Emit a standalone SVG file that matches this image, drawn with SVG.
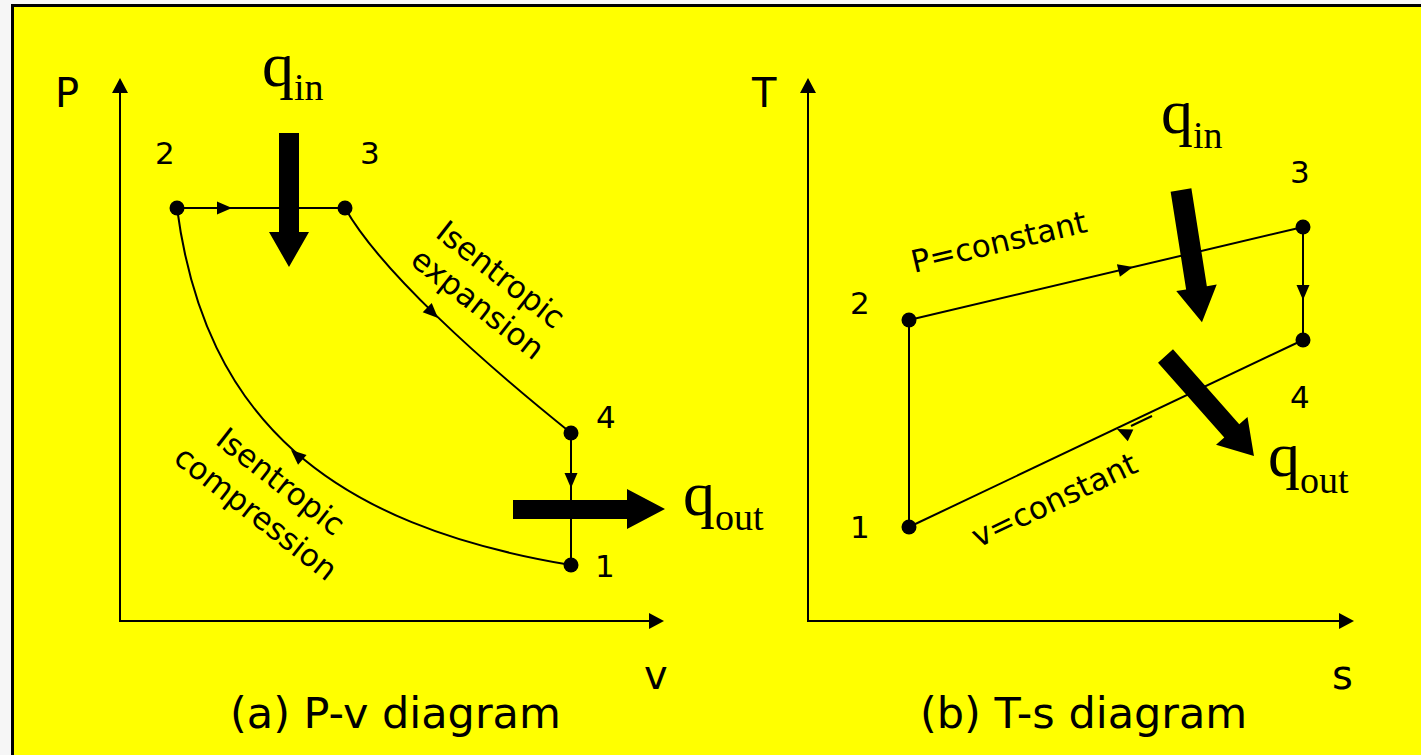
<svg xmlns="http://www.w3.org/2000/svg" width="1421" height="755" viewBox="0 0 1421 755">
<style>
.ln{fill:none;stroke:#000;stroke-width:2}
.ax{fill:none;stroke:#000;stroke-width:2}
.dot{fill:#000}
.t{font-family:"DejaVu Sans",Verdana,sans-serif;fill:#000}
.num{font-size:31px}
.axl{font-size:40px}
.cap{font-size:43px}
.rot{font-size:31px}
.q{font-family:"Liberation Serif","Times New Roman",serif;fill:#000;font-size:64px}
.qs{font-size:38px}
.big{fill:#000}
</style>
<defs>
<path id="ah" d="M0,0 L-15,-6.5 L-15,6.5 Z" fill="#000"/>
<path id="axh" d="M0,0 L-15,-8 L-15,8 Z" fill="#000"/>
</defs>
<rect x="0" y="0" width="1421" height="755" fill="#f6f6f6"/>
<rect x="12.5" y="5.5" width="1420" height="760" fill="#ffff00" stroke="#000" stroke-width="3"/>

<g id="pv-axes">
<line class="ax" x1="120" y1="622" x2="120" y2="90"/>
<use href="#axh" transform="translate(120,78) rotate(-90)"/>
<line class="ax" x1="119" y1="621" x2="652" y2="621"/>
<use href="#axh" transform="translate(664,621)"/>
<text class="t axl" x="55" y="107">P</text>
<text class="t axl" x="644" y="689">v</text>
</g>

<g id="pv-connectors">
<line class="ln" x1="177" y1="208" x2="345" y2="208"/>
<use href="#ah" transform="translate(232,208)"/>
<path class="ln" d="M345,208 C380,270 480,360 571,433"/>
<use href="#ah" transform="translate(438,318) rotate(44)"/>
<line class="ln" x1="571" y1="433" x2="571" y2="565"/>
<use href="#ah" transform="translate(571,488) rotate(90)"/>
<path class="ln" d="M177,208 C205,420 330,525 571,565"/>
<use href="#ah" transform="translate(291,450) rotate(221)"/>
</g>

<g id="pv-node-2"><circle class="dot" cx="177" cy="208" r="7.5"/><text class="t num" x="155" y="164">2</text></g>
<g id="pv-node-3"><circle class="dot" cx="345" cy="208" r="7.5"/><text class="t num" x="360" y="164">3</text></g>
<g id="pv-node-4"><circle class="dot" cx="571" cy="433" r="7.5"/><text class="t num" x="596" y="428">4</text></g>
<g id="pv-node-1"><circle class="dot" cx="571" cy="565" r="7.5"/><text class="t num" x="595" y="577">1</text></g>

<g id="pv-labels">
<text class="t rot" text-anchor="middle" transform="translate(494,283) rotate(38)"><tspan x="0" y="0">Isentropic</tspan><tspan x="0" y="37">expansion</tspan></text>
<text class="t rot" text-anchor="middle" transform="translate(274,490) rotate(38)"><tspan x="0" y="0">Isentropic</tspan><tspan x="0" y="40">compression</tspan></text>
</g>

<g id="pv-qin">
<polygon class="big" points="279,133 299,133 299,232 309,232 289,267 269,232 279,232"/>
<text class="q" x="262" y="86">q<tspan class="qs" y="100">in</tspan></text>
</g>
<g id="pv-qout">
<polygon class="big" points="513,500 627,500 627,489 665,509 627,529 627,519 513,519"/>
<text class="q" x="683" y="515">q<tspan class="qs" y="530">out</tspan></text>
</g>

<g id="ts-axes">
<line class="ax" x1="808" y1="622" x2="808" y2="90"/>
<use href="#axh" transform="translate(808,78) rotate(-90)"/>
<line class="ax" x1="807" y1="621" x2="1342" y2="621"/>
<use href="#axh" transform="translate(1354,621)"/>
<text class="t axl" x="752" y="107">T</text>
<text class="t axl" x="1332" y="689">s</text>
</g>

<g id="ts-connectors">
<line class="ln" x1="909" y1="527" x2="909" y2="320"/>
<line class="ln" x1="909" y1="320" x2="1303" y2="227"/>
<use href="#ah" transform="translate(1133,267) rotate(-13.3)"/>
<line class="ln" x1="1303" y1="227" x2="1303" y2="340"/>
<use href="#ah" transform="translate(1303,300) rotate(90)"/>
<line class="ln" x1="1303" y1="340" x2="909" y2="527"/>
<use href="#ah" transform="translate(1117,429) rotate(205.4)"/>
<line class="ln" x1="1131" y1="426" x2="1152" y2="416" stroke-width="1.6"/>
</g>

<g id="ts-node-1"><circle class="dot" cx="909" cy="527" r="7.5"/><text class="t num" x="850" y="538">1</text></g>
<g id="ts-node-2"><circle class="dot" cx="909" cy="320" r="7.5"/><text class="t num" x="850" y="314">2</text></g>
<g id="ts-node-3"><circle class="dot" cx="1303" cy="227" r="7.5"/><text class="t num" x="1290" y="183">3</text></g>
<g id="ts-node-4"><circle class="dot" cx="1303" cy="340" r="7.5"/><text class="t num" x="1290" y="408">4</text></g>

<g id="ts-labels">
<text class="t rot" transform="translate(914,273) rotate(-13.3)">P=constant</text>
<text class="t rot" transform="translate(978,548) rotate(-25.4)">v=constant</text>
</g>

<g id="ts-qin">
<polygon class="big" transform="translate(1181,190) rotate(81)" points="0,-10.5 99,-10.5 99,-20.5 134,0 99,20.5 99,10.5 0,10.5"/>
<text class="q" x="1161" y="133">q<tspan class="qs" y="148">in</tspan></text>
</g>
<g id="ts-qout">
<polygon class="big" transform="translate(1165.5,356) rotate(48.5)" points="0,-10 100,-10 100,-21 133.5,0 100,21 100,10 0,10"/>
<text class="q" x="1268" y="476">q<tspan class="qs" y="493">out</tspan></text>
</g>

<g id="captions">
<text class="t cap" x="230" y="728">(a) P-v diagram</text>
<text class="t cap" x="920" y="728">(b) T-s diagram</text>
</g>
</svg>
